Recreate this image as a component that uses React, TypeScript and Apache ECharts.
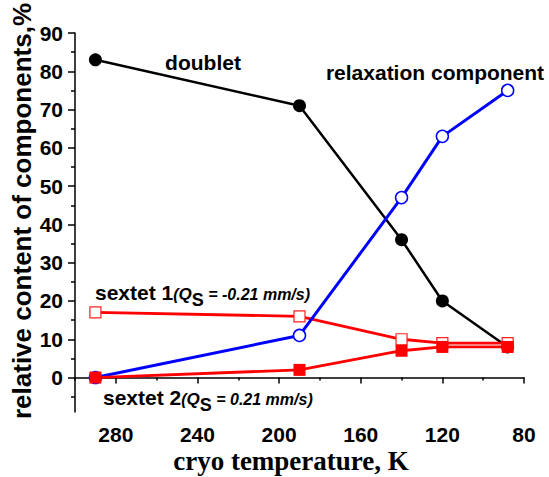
import React, { useEffect, useRef } from 'react';
import * as echarts from 'echarts';

const temperatures = [290, 190, 140, 120, 88];
const doublet = [83, 71, 36, 20, 8];
const relaxation = [0, 11, 47, 63, 75];
const sextet1 = [17, 16, 10, 9, 9];
const sextet2 = [0, 2, 7, 8, 8];

const xTickValues = [80, 120, 160, 200, 240, 280];
const xMinorTickValues = [100, 140, 180, 220, 260, 300];
const yTickValues = [0, 10, 20, 30, 40, 50, 60, 70, 80, 90];
const yMinorTickValues = [-5, 5, 15, 25, 35, 45, 55, 65, 75, 85];

const SANS = '"Liberation Sans", Arial, sans-serif';
const SERIF = '"Liberation Serif", "Times New Roman", serif';

const pairs = (ys: number[]) => temperatures.map((t, i) => [t, ys[i]]);

export default function App() {
  const ref = useRef<HTMLDivElement>(null);
  useEffect(() => {
    if (!ref.current) return;
    const chart = echarts.init(ref.current, undefined, { renderer: 'svg' });
    const axisCommon = {
      type: 'value' as const,
      splitLine: { show: false },
    };
    const richSmall = {
      a: { fontSize: 21, fontWeight: 'bold', fontFamily: SANS, fill: '#000', verticalAlign: 'bottom', padding: [0, 0, 6, 0] },
      b: { fontSize: 16, fontWeight: 'bold', fontStyle: 'italic', fontFamily: SANS, fill: '#000', verticalAlign: 'bottom', padding: [0, 0, 6, 0] },
      q: { fontSize: 17, fontWeight: 'bold', fontStyle: 'italic', fontFamily: SANS, fill: '#000', verticalAlign: 'bottom', padding: [0, 0, 6, 0] },
      s: { fontSize: 18, fontWeight: 'bold', fontFamily: SANS, fill: '#000', verticalAlign: 'bottom' },
    };
    chart.setOption({
      animation: false,
      backgroundColor: '#fff',
      grid: { left: 75, right: 25, top: 33, bottom: 65 },
      xAxis: [
        {
          ...axisCommon,
          min: 80,
          max: 300,
          inverse: true,
          position: 'bottom',
          axisLine: { show: true, lineStyle: { color: '#000', width: 1.5 } },
          axisTick: { show: true, customValues: xTickValues, length: 6, lineStyle: { color: '#000', width: 1.5 } },
          axisLabel: {
            show: true,
            customValues: xTickValues,
            margin: 12,
            color: '#000',
            fontSize: 21,
            fontWeight: 'bold',
            fontFamily: SANS,
          },
        },
        {
          ...axisCommon,
          min: 80,
          max: 300,
          inverse: true,
          position: 'bottom',
          axisLine: { show: false },
          axisTick: { show: true, customValues: xMinorTickValues, length: 3, lineStyle: { color: '#000', width: 1.5 } },
          axisLabel: { show: false },
        },
      ],
      yAxis: [
        {
          ...axisCommon,
          min: -9,
          max: 90,
          position: 'left',
          axisLine: { show: true, lineStyle: { color: '#000', width: 1.5 } },
          axisTick: { show: true, customValues: yTickValues, length: 7, lineStyle: { color: '#000', width: 1.5 } },
          axisLabel: {
            show: true,
            customValues: yTickValues,
            margin: 12,
            color: '#000',
            fontSize: 21,
            fontWeight: 'bold',
            fontFamily: SANS,
          },
        },
        {
          ...axisCommon,
          min: -9,
          max: 90,
          position: 'left',
          axisLine: { show: false },
          axisTick: { show: true, customValues: yMinorTickValues, length: 4, lineStyle: { color: '#000', width: 1.5 } },
          axisLabel: { show: false },
        },
      ],
      series: [
        {
          name: 'doublet',
          type: 'line',
          data: pairs(doublet),
          symbol: 'circle',
          symbolSize: 13,
          lineStyle: { color: '#000', width: 2.5 },
          itemStyle: { color: '#000', borderColor: '#000', borderWidth: 0 },
        },
        {
          name: 'sextet 1',
          type: 'line',
          data: pairs(sextet1),
          symbol: 'rect',
          symbolSize: 11,
          lineStyle: { color: '#ff0000', width: 2.8 },
          itemStyle: { color: '#fff', borderColor: '#ff2020', borderWidth: 1.2 },
        },
        {
          name: 'relaxation component',
          type: 'line',
          data: pairs(relaxation),
          symbol: 'circle',
          symbolSize: 12,
          lineStyle: { color: '#0000ff', width: 3 },
          itemStyle: { color: '#fff', borderColor: '#0000ff', borderWidth: 1.5 },
        },
        {
          name: 'sextet 2',
          type: 'line',
          data: pairs(sextet2),
          symbol: 'rect',
          symbolSize: 12,
          lineStyle: { color: '#ff0000', width: 2.8 },
          itemStyle: { color: '#ff0000', borderWidth: 0 },
        },
      ],
      graphic: [
        {
          type: 'text',
          x: 22,
          y: 211,
          rotation: Math.PI / 2,
          style: {
            text: 'relative content of components,%',
            font: `bold 26px ${SANS}`,
            fill: '#000',
            textAlign: 'center',
            textVerticalAlign: 'middle',
          },
        },
        {
          type: 'text',
          x: 291,
          y: 461,
          style: {
            text: 'cryo temperature, K',
            font: `bold 27px ${SERIF}`,
            fill: '#000',
            textAlign: 'center',
            textVerticalAlign: 'middle',
          },
        },
        {
          type: 'text',
          x: 203,
          y: 62,
          style: {
            text: 'doublet',
            font: `bold 21px ${SANS}`,
            fill: '#000',
            textAlign: 'center',
            textVerticalAlign: 'middle',
          },
        },
        {
          type: 'text',
          x: 435,
          y: 72,
          style: {
            text: 'relaxation component',
            font: `bold 21px ${SANS}`,
            fill: '#000',
            textAlign: 'center',
            textVerticalAlign: 'middle',
          },
        },
        {
          type: 'text',
          x: 95,
          y: 295,
          style: {
            text: '{a|sextet 1}{b|(}{q|Q}{s|S}{b| = -0.21 mm/s)}',
            rich: richSmall,
            textAlign: 'left',
            textVerticalAlign: 'middle',
          },
        },
        {
          type: 'text',
          x: 103,
          y: 400,
          style: {
            text: '{a|sextet 2}{b|(}{q|Q}{s|S}{b| = 0.21 mm/s)}',
            rich: richSmall,
            textAlign: 'left',
            textVerticalAlign: 'middle',
          },
        },
      ],
    });
    return () => chart.dispose();
  }, []);
  return (
    <div
      ref={ref}
      style={{ position: 'fixed', left: 0, top: 0, width: 549, height: 477, background: '#fff' }}
    />
  );
}
